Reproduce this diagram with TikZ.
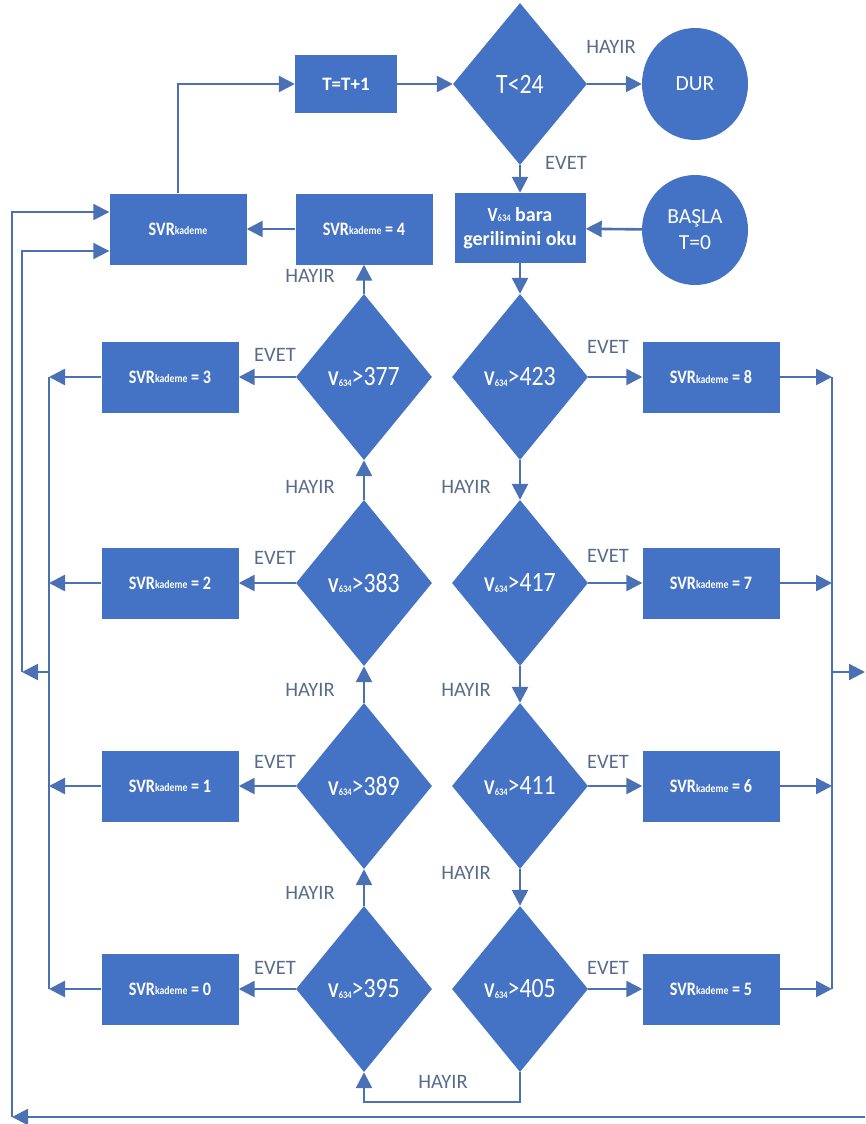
\documentclass[tikz,border=0pt]{standalone}
\usepackage{fontspec}
\setmainfont{Carlito}
\newfontfamily\condfont{Carlito}[FakeStretch=0.85]
\usetikzlibrary{shapes.geometric,arrows.meta}
\definecolor{fblue}{HTML}{4472C4}
\definecolor{lblue}{HTML}{4A70B5}
\definecolor{labc}{HTML}{586B8C}
\newcommand\svrk{SVR\raisebox{0.2pt}{\fontsize{11.5}{12}\selectfont kademe}}
\newcommand\vsub{{\fontsize{21}{24}\selectfont\bfseries V\raisebox{-0.5pt}{\fontsize{10}{11}\selectfont 634}}}
\tikzset{
  boxnode/.style={rectangle, fill=fblue, text=white, inner sep=0pt, minimum width=137pt, minimum height=71pt, font=\condfont\bfseries\fontsize{19}{22}\selectfont},
  dianode/.style={diamond, fill=fblue, text=white, inner sep=0pt, minimum width=136pt, minimum height=166pt, font=\condfont\fontsize{28}{32}\selectfont},
  ellnode/.style={ellipse, fill=fblue, text=white, inner sep=0pt, minimum width=106pt, minimum height=112pt, font=\fontsize{21.5}{26}\selectfont, align=center},
  arr/.style={draw=lblue, line width=2.6pt, -{Triangle[length=16pt,width=16pt]}},
  thinarr/.style={draw=lblue, line width=2.1pt, -{Triangle[length=16pt,width=16pt]}},
  ln/.style={draw=lblue, line width=2.1pt},
  lab/.style={text=labc, font=\fontsize{20.5}{24}\selectfont, inner sep=0pt}
}
\begin{document}
\begin{tikzpicture}[x=1pt,y=-1pt]
\useasboundingbox (0,0) rectangle (865,1124);
% top row
\node[boxnode, minimum width=102pt, minimum height=58pt, font=\bfseries\fontsize{19}{22}\selectfont] (tt) at (346,84) {T=T+1};
\node[dianode, minimum width=134pt, minimum height=162pt] (t24) at (520,84) {T<24};
\node[ellnode] (dur) at (695,84) {DUR};
% second row
\node[boxnode] (svrk) at (178,229) {\svrk};
\node[boxnode] (s4) at (364,229) {\svrk{} = 4};
\node[boxnode, minimum width=131pt, minimum height=70pt, align=center, font=\bfseries\fontsize{20}{24}\selectfont] (read) at (520,228) {{\condfont V\raisebox{-0.3pt}{\fontsize{10}{11}\selectfont 634}} bara\\gerilimini oku};
\node[ellnode, minimum height=110pt] (basla) at (695,230) {BAŞLA\\T=0};
% diamonds
\node[dianode] (d377) at (364,377) {\vsub{}>377};
\node[dianode] (d383) at (364,583) {\vsub{}>383};
\node[dianode] (d389) at (364,786) {\vsub{}>389};
\node[dianode] (d395) at (364,989) {\vsub{}>395};
\node[dianode] (d423) at (520,377) {\vsub{}>423};
\node[dianode] (d417) at (520,583) {\vsub{}>417};
\node[dianode] (d411) at (520,786) {\vsub{}>411};
\node[dianode] (d405) at (520,989) {\vsub{}>405};
% left boxes
\node[boxnode] (s3) at (170,377) {\svrk{} = 3};
\node[boxnode] (s2) at (170,583) {\svrk{} = 2};
\node[boxnode] (s1) at (170,786) {\svrk{} = 1};
\node[boxnode] (s0) at (170,989) {\svrk{} = 0};
% right boxes
\node[boxnode] (s8) at (711,377) {\svrk{} = 8};
\node[boxnode] (s7) at (711,583) {\svrk{} = 7};
\node[boxnode] (s6) at (711,786) {\svrk{} = 6};
\node[boxnode] (s5) at (711,989) {\svrk{} = 5};
% coordinates for collectors
\coordinate (lc) at (49,672);
\coordinate (li) at (22,672);
\coordinate (li2) at (22,251);
\coordinate (lo) at (12,1117);
\coordinate (lo2) at (12,212);
\coordinate (rc) at (832,672);
\coordinate (re) at (865,672);
\coordinate (rb) at (865,1117);
\coordinate (hb) at (0,1102);
% top connectors
\draw[arr] (svrk.north) |- (tt.west);
\draw[arr] (tt) -- (t24);
\draw[arr] (t24) -- (dur);
\draw[arr] (t24.south) -- (read.north);
\draw[arr] (basla) -- (read);
\draw[arr] (read.south) -- (d423.north);
\draw[arr] (d377.north) -- (s4.south);
\draw[arr] (s4) -- (svrk);
% left column chain
\draw[arr] (d383.north) -- (d377.south);
\draw[arr] (d389.north) -- (d383.south);
\draw[arr] (d395.north) -- (d389.south);
% right column chain
\draw[arr] (d423.south) -- (d417.north);
\draw[arr] (d417.south) -- (d411.north);
\draw[arr] (d411.south) -- (d405.north);
\draw[arr] (d405.south) -- (d405.south |- hb) -- (d395.south |- hb) -- (d395.south);
% EVET branches
\draw[arr] (d377) -- (s3);
\draw[arr] (d383) -- (s2);
\draw[arr] (d389) -- (s1);
\draw[arr] (d395) -- (s0);
\draw[arr] (d423) -- (s8);
\draw[arr] (d417) -- (s7);
\draw[arr] (d411) -- (s6);
\draw[arr] (d405) -- (s5);
% left collectors
\draw[arr] (s3.west) -- (s3.west -| lc);
\draw[arr] (s2.west) -- (s2.west -| lc);
\draw[arr] (s1.west) -- (s1.west -| lc);
\draw[arr] (s0.west) -- (s0.west -| lc);
\draw[ln] (s3.west -| lc) -- (s0.west -| lc);
\draw[thinarr] (lc) -- (li);
\draw[thinarr] (li) -- (li2) -- (svrk.west |- li2);
% right collectors
\draw[arr] (s8.east) -- (s8.east -| rc);
\draw[arr] (s7.east) -- (s7.east -| rc);
\draw[arr] (s6.east) -- (s6.east -| rc);
\draw[arr] (s5.east) -- (s5.east -| rc);
\draw[ln] (s8.east -| rc) -- (s5.east -| rc);
\draw[thinarr] (rc) -- (re);
% outer return
\draw[thinarr] (rb) -- (lo);
\draw[thinarr] (lo) -- (lo2) -- (svrk.west |- lo2);
% labels
\node[lab] (lh0) at (611,47) {HAYIR};
\node[lab] (le0) at (566,163) {EVET};
\node[lab] (lhl1) at (310,276) {HAYIR};
\node[lab] (lhl2) at (310,487) {HAYIR};
\node[lab] (lhl3) at (310,690) {HAYIR};
\node[lab] (lhl4) at (310,893) {HAYIR};
\node[lab] (lhr1) at (466,487) {HAYIR};
\node[lab] (lhr2) at (466,690) {HAYIR};
\node[lab] (lhr3) at (466,873) {HAYIR};
\node[lab] (lhb) at (443,1082) {HAYIR};
\node[lab] (lel1) at (275,355) {EVET};
\node[lab] (lel2) at (275,558) {EVET};
\node[lab] (lel3) at (275,762) {EVET};
\node[lab] (lel4) at (275,968) {EVET};
\node[lab] (ler1) at (608,347) {EVET};
\node[lab] (ler2) at (608,556) {EVET};
\node[lab] (ler3) at (608,762) {EVET};
\node[lab] (ler4) at (608,968) {EVET};
\end{tikzpicture}
\end{document}
